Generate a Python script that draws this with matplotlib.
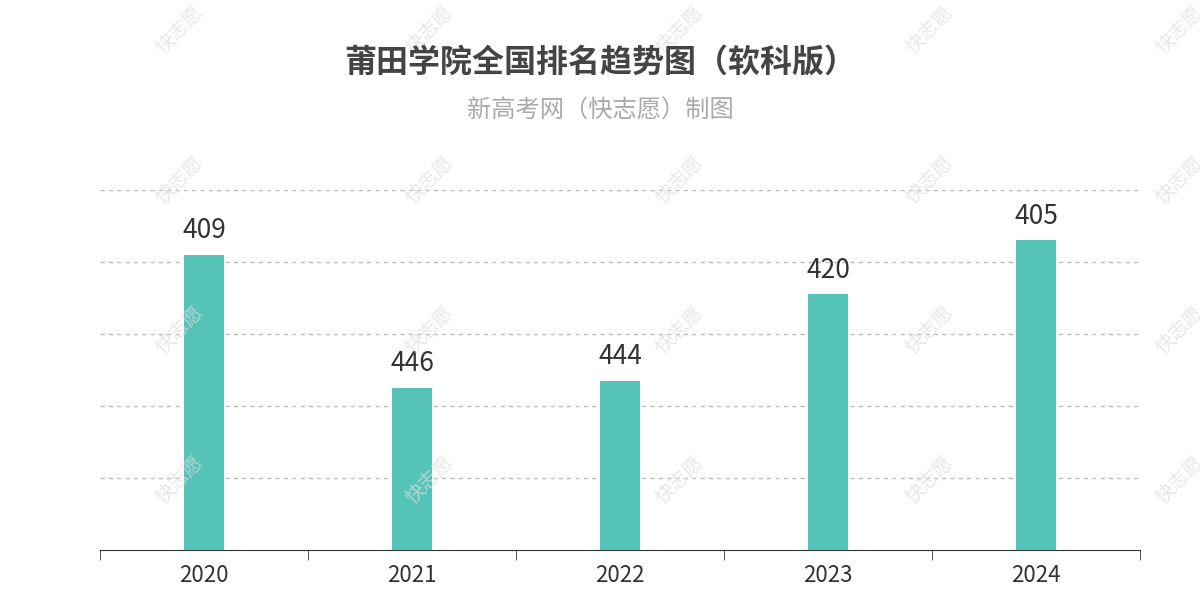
import matplotlib
matplotlib.use("Agg")
import matplotlib.pyplot as plt

plt.rcParams['font.family'] = ['Noto Sans CJK SC', 'DejaVu Sans']

years = ["2020", "2021", "2022", "2023", "2024"]
ranks = [409, 446, 444, 420, 405]
base = 491  # inverted scale: taller bar = better rank

fig = plt.figure(figsize=(12, 6), dpi=100)
ax = fig.add_axes([100/1200, 50/600, 1040/1200, 360/600])
x = list(range(len(years)))
heights = [base - r for r in ranks]
ax.bar(x, heights, width=0.19, color="#55c3b8", zorder=3)
for xi, h, r in zip(x, heights, ranks):
    ax.text(xi, h + 3, str(r), ha="center", va="bottom", fontsize=19, color="#333333")
ax.set_xlim(-0.5, len(years) - 0.5)
ax.set_ylim(0, 100)
for g in [20, 40, 60, 80, 100]:
    ax.axhline(g, color="#bbbbbb", lw=1, ls=(0, (3, 3)), zorder=1)
ax.set_yticks([])
ax.set_xticks(x)
ax.set_xticklabels(years, fontsize=16, color="#333333")
ax.set_xticks([i - 0.5 for i in range(len(years) + 1)], minor=True)
ax.tick_params(axis="x", which="major", length=0, pad=10)
ax.tick_params(axis="x", which="minor", length=7, color="#333333")
for s in ["top", "right", "left"]:
    ax.spines[s].set_visible(False)
ax.spines["bottom"].set_color("#333333")

fig.text(0.5, 1 - 63/600, "莆田学院全国排名趋势图（软科版）", ha="center", va="center",
         fontsize=23, fontweight="bold", color="#444444")
fig.text(0.5, 1 - 111/600, "新高考网（快志愿）制图", ha="center", va="center",
         fontsize=17.5, color="#aaaaaa")

for wx in [180, 430, 680, 930, 1180]:
    for wy in [30, 180, 330, 480]:
        fig.text(wx/1200, 1 - wy/600, "快志愿", rotation=45, ha="center", va="center",
                 fontsize=14, color="#dddddd", alpha=0.7, zorder=0)

fig.savefig("out.png")
